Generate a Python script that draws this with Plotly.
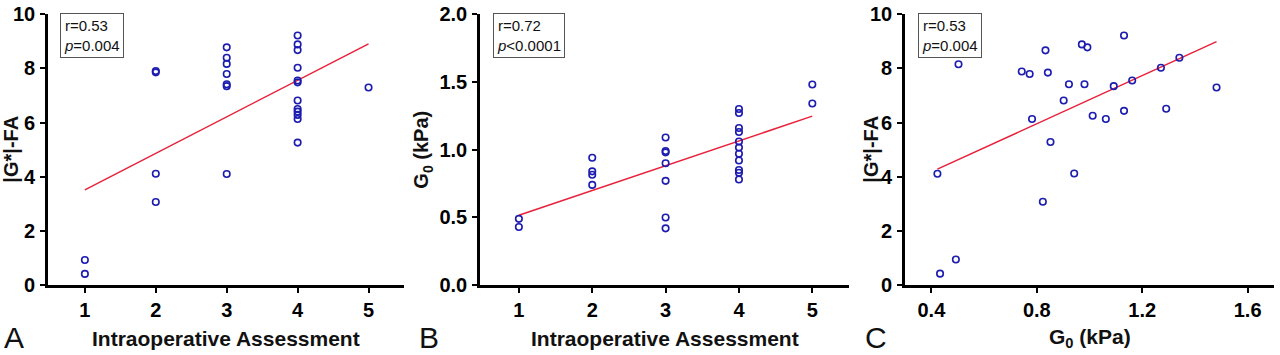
import plotly.graph_objects as go

# ---------------- data ----------------
# Panel A: Intraoperative Assessment vs |G*|-FA
a_x = [1, 1, 2, 2, 2, 2, 3, 3, 3, 3, 3, 3, 3,
       4, 4, 4, 4, 4, 4, 4, 4, 4, 4, 4, 4, 5]
a_y = [0.93, 0.42, 7.90, 7.85, 4.11, 3.07, 8.77, 8.39, 8.16, 7.79, 7.41, 7.34, 4.10,
       9.21, 8.88, 8.67, 8.02, 7.55, 7.48, 6.81, 6.50, 6.40, 6.28, 6.13, 5.26, 7.29]
a_fit_x = [1, 5]
a_fit_y = [3.52, 8.90]

# Panel B: Intraoperative Assessment vs G0 (kPa)
b_x = [1, 1, 2, 2, 2, 2, 3, 3, 3, 3, 3, 3, 3,
       4, 4, 4, 4, 4, 4, 4, 4, 4, 4, 4, 5, 5]
b_y = [0.49, 0.43, 0.94, 0.84, 0.815, 0.74, 1.09, 0.99, 0.98, 0.90, 0.77, 0.50, 0.42,
       1.30, 1.27, 1.16, 1.13, 1.06, 1.015, 0.97, 0.92, 0.85, 0.83, 0.78, 1.48, 1.34]
b_fit_x = [1, 5]
b_fit_y = [0.516, 1.247]

# Panel C: G0 (kPa) vs |G*|-FA
c_x = [0.423, 0.433, 0.493, 0.503, 0.743, 0.773, 0.782, 0.823, 0.833, 0.842, 0.852,
       0.902, 0.922, 0.942, 0.971, 0.981, 0.992, 1.012, 1.062, 1.092, 1.131, 1.131,
       1.162, 1.271, 1.291, 1.341, 1.482]
c_y = [4.11, 0.43, 0.95, 8.15, 7.88, 7.79, 6.13, 3.08, 8.66, 7.84, 5.28,
       6.81, 7.41, 4.12, 8.88, 7.41, 8.77, 6.25, 6.13, 7.34, 9.21, 6.43,
       7.55, 8.02, 6.51, 8.39, 7.29]
c_fit_x = [0.423, 1.482]
c_fit_y = [4.28, 8.98]

stats = ["r=0.53<br><i>p</i>=0.004", "r=0.72<br><i>p</i><0.0001", "r=0.53<br><i>p</i>=0.004"]
panel_letters = ["A", "B", "C"]
x_titles = ["Intraoperative Assessment", "Intraoperative Assessment", "G<sub>0</sub> (kPa)"]
y_titles = ["|G*|-FA", "G<sub>0</sub> (kPa)", "|G*|-FA"]

# ---------------- layout geometry (pixels) ----------------
W, H = 1280, 355
px_dom = [(48, 404), (480, 849), (905, 1274)]
py_top, py_bot = 14, 285.3

def fx(p):
    return p / W

def fy(p):
    return 1 - p / H

FONT = "Arial, Liberation Sans, Helvetica, sans-serif"
MARK_COLOR = "#1c1caf"
LINE_COLOR = "#e8203a"

fig = go.Figure()
panels = [(a_x, a_y, a_fit_x, a_fit_y), (b_x, b_y, b_fit_x, b_fit_y), (c_x, c_y, c_fit_x, c_fit_y)]
for i, (xs, ys, fxs, fys) in enumerate(panels):
    suf = "" if i == 0 else str(i + 1)
    fig.add_trace(go.Scatter(x=fxs, y=fys, mode="lines",
                             line=dict(color=LINE_COLOR, width=1.5),
                             xaxis="x" + suf, yaxis="y" + suf, showlegend=False, hoverinfo="skip"))
    fig.add_trace(go.Scatter(x=xs, y=ys, mode="markers",
                             marker=dict(symbol="circle-open", size=6.5, color=MARK_COLOR,
                                         line=dict(width=1.6, color=MARK_COLOR)),
                             xaxis="x" + suf, yaxis="y" + suf, showlegend=False, cliponaxis=False))

axis_common = dict(showline=True, linecolor="black", linewidth=2.6, ticks="outside",
                   ticklen=5, tickwidth=2, tickcolor="black", showgrid=False, zeroline=False,
                   automargin=False,
                   tickfont=dict(family=FONT, size=20, color="black", weight="bold"))

x_ranges = [[0.48, 5.5], [0.47, 5.5], [0.3, 1.7]]
y_ranges = [[0, 10], [0, 2], [0, 10]]
x_ticks = [[1, 2, 3, 4, 5], [1, 2, 3, 4, 5], [0.4, 0.8, 1.2, 1.6]]
y_ticks = [[0, 2, 4, 6, 8, 10], [0, 0.5, 1.0, 1.5, 2.0], [0, 2, 4, 6, 8, 10]]
x_fmt = ["d", "d", ".1f"]
y_fmt = ["d", ".1f", "d"]

layout = dict(width=W, height=H, autosize=False,
              margin=dict(l=0, r=0, t=0, b=0, pad=0, autoexpand=False),
              paper_bgcolor="white", plot_bgcolor="white", showlegend=False)
annotations = []
for i in range(3):
    suf = "" if i == 0 else str(i + 1)
    x0, x1 = px_dom[i]
    layout["xaxis" + suf] = dict(axis_common, domain=[fx(x0), fx(x1)], range=x_ranges[i],
                                 tickvals=x_ticks[i], tickformat=x_fmt[i],
                                 anchor="y" + suf, ticklabelstandoff=0)
    layout["yaxis" + suf] = dict(axis_common, domain=[fy(py_bot), fy(py_top)], range=y_ranges[i],
                                 tickvals=y_ticks[i], tickformat=y_fmt[i],
                                 anchor="x" + suf, ticklabelstandoff=1)
    box_x = [60, 493, 918][i]
    annotations.append(dict(xref="paper", yref="paper", x=fx(box_x), y=fy(12.7),
                            xanchor="left", yanchor="top", text=stats[i], align="left",
                            showarrow=False, bordercolor="#555555", borderwidth=1,
                            borderpad=3, bgcolor="white",
                            font=dict(family=FONT, size=15, color="#111111")))
    annotations.append(dict(xref="paper", yref="paper", x=fx((x0 + x1) / 2), y=fy(338),
                            xanchor="center", yanchor="middle", text=x_titles[i],
                            showarrow=False,
                            font=dict(family=FONT, size=21, color="#111111", weight="bold")))
    ytx = [11, 423, 871][i]
    annotations.append(dict(xref="paper", yref="paper", x=fx(ytx), y=fy((py_top + py_bot) / 2),
                            xanchor="center", yanchor="middle", text=y_titles[i],
                            textangle=-90, showarrow=False,
                            font=dict(family=FONT, size=20, color="#111111", weight="bold")))
    ltx = [14, 429, 876][i]
    annotations.append(dict(xref="paper", yref="paper", x=fx(ltx), y=0,
                            xanchor="center", yanchor="bottom", text=panel_letters[i],
                            showarrow=False, borderpad=0,
                            font=dict(family=FONT, size=30, color="#111111")))
layout["annotations"] = annotations
fig.update_layout(**layout)

fig.write_html("out.html", config={"displayModeBar": False},
               post_script="document.body.style.margin='0px';")
